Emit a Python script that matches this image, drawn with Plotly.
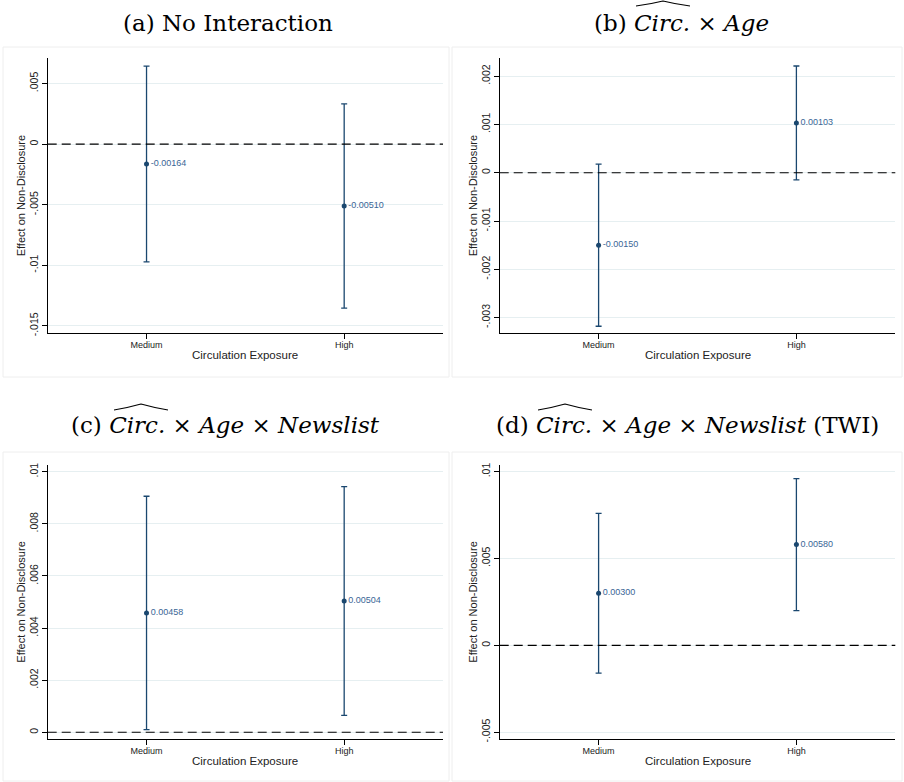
import plotly.graph_objects as go

W, H = 904, 782

categories = ["Medium", "High"]

# Panel (a) No Interaction
est_a = [-0.00164, -0.00510]
lo_a = [-0.00972, -0.01352]
hi_a = [0.00644, 0.00332]
ticks_a = [-0.015, -0.01, -0.005, 0, 0.005]
ticktext_a = ["-.015", "-.01", "-.005", "0", ".005"]

# Panel (b) Circ x Age
est_b = [-0.00150, 0.00103]
lo_b = [-0.00318, -0.00015]
hi_b = [0.00018, 0.00221]
ticks_b = [-0.003, -0.002, -0.001, 0, 0.001, 0.002]
ticktext_b = ["-.003", "-.002", "-.001", "0", ".001", ".002"]

# Panel (c) Circ x Age x Newslist
est_c = [0.00458, 0.00504]
lo_c = [0.00010, 0.00065]
hi_c = [0.00906, 0.00943]
ticks_c = [0, 0.002, 0.004, 0.006, 0.008, 0.01]
ticktext_c = ["0", ".002", ".004", ".006", ".008", ".01"]

# Panel (d) Circ x Age x Newslist (TWI)
est_d = [0.00300, 0.00580]
lo_d = [-0.00160, 0.00200]
hi_d = [0.00760, 0.00960]
ticks_d = [-0.005, 0, 0.005, 0.01]
ticktext_d = ["-.005", "0", ".005", ".01"]

titles = [
    "(a) No Interaction",
    "(b) <i>Circ.</i> × <i>Age</i>",
    "(c) <i>Circ.</i> × <i>Age</i> × <i>Newslist</i>",
    "(d) <i>Circ.</i> × <i>Age</i> × <i>Newslist</i> (TWI)",
]
x_title = "Circulation Exposure"
y_title = "Effect on Non-Disclosure"


def PX(p):
    return p / W


def PY(p):
    return 1 - p / H


NAVY = "#1a476f"
LABEL = "#3a6696"
GRID = "#e6eff1"

panels = [
    dict(est=est_a, lo=lo_a, hi=hi_a, tv=ticks_a, tt=ticktext_a,
         xd=(47.7, 443), yd=(58.3, 333), yr=(-0.01558, 0.00708),
         title_xy=(228, 23), ytitle_x=20.7, xtitle_y=355),
    dict(est=est_b, lo=lo_b, hi=hi_b, tv=ticks_b, tt=ticktext_b,
         xd=(499.7, 895.3), yd=(58.3, 333), yr=(-0.00332, 0.00237),
         title_xy=(681, 23), ytitle_x=472.7, xtitle_y=355),
    dict(est=est_c, lo=lo_c, hi=hi_c, tv=ticks_c, tt=ticktext_c,
         xd=(47.7, 443), yd=(465, 739), yr=(-0.000257, 0.01026),
         title_xy=(225, 425), ytitle_x=20.7, xtitle_y=761),
    dict(est=est_d, lo=lo_d, hi=hi_d, tv=ticks_d, tt=ticktext_d,
         xd=(499.7, 895.3), yd=(465, 739), yr=(-0.00539, 0.01038),
         title_xy=(687, 425), ytitle_x=472.7, xtitle_y=761),
]

fig = go.Figure()
annotations = []
shapes = []
layout = {}

for i, p in enumerate(panels):
    n = i + 1
    sx = "" if n == 1 else str(n)
    xa, ya = "x" + sx, "y" + sx
    fig.add_trace(go.Scatter(
        x=categories, y=p["est"], xaxis=xa, yaxis=ya,
        mode="markers+text",
        marker=dict(color=NAVY, size=5),
        text=[f"{v:.5f}" for v in p["est"]],
        textposition="middle right",
        textfont=dict(family="Liberation Sans", size=9, color=LABEL),
        error_y=dict(type="data", symmetric=False,
                     array=[h - e for h, e in zip(p["hi"], p["est"])],
                     arrayminus=[e - l for e, l in zip(p["est"], p["lo"])],
                     color=NAVY, thickness=1.3, width=3),
        showlegend=False, cliponaxis=False, hoverinfo="skip",
    ))
    layout["xaxis" + sx] = dict(
        domain=[PX(p["xd"][0]), PX(p["xd"][1])], anchor=ya,
        type="category", range=[-0.5, 1.5], automargin=False,
        showline=True, linecolor="black", linewidth=1,
        ticks="outside", ticklen=5, tickcolor="black", ticklabelstandoff=-2,
        tickfont=dict(family="Liberation Sans", size=9, color="#222"),
        showgrid=False, zeroline=False, fixedrange=True,
    )
    layout["yaxis" + sx] = dict(
        domain=[PY(p["yd"][1]), PY(p["yd"][0])], anchor=xa,
        range=list(p["yr"]), automargin=False,
        tickvals=p["tv"], ticktext=p["tt"], tickangle=-90,
        showline=True, linecolor="black", linewidth=1,
        ticks="outside", ticklen=5, tickcolor="black",
        tickfont=dict(family="Liberation Sans", size=10.5, color="#222"),
        showgrid=True, gridcolor=GRID, gridwidth=1,
        zeroline=False, fixedrange=True,
    )
    shapes.append(dict(type="line", xref=xa + " domain", yref=ya,
                       x0=0, x1=1, y0=0, y1=0,
                       line=dict(color="black", width=1.1, dash="9px,5px")))
    cx = (p["xd"][0] + p["xd"][1]) / 2
    cy = (p["yd"][0] + p["yd"][1]) / 2
    annotations.append(dict(text=x_title, xref="paper", yref="paper",
                            x=PX(cx), y=PY(p["xtitle_y"]), showarrow=False,
                            xanchor="center", yanchor="middle",
                            font=dict(family="Liberation Sans", size=11.5, color="#222")))
    annotations.append(dict(text=y_title, xref="paper", yref="paper",
                            x=PX(p["ytitle_x"]), y=PY(cy), showarrow=False,
                            textangle=-90, xanchor="center", yanchor="middle",
                            font=dict(family="Liberation Sans", size=11, color="#222")))
    annotations.append(dict(text=titles[i], xref="paper", yref="paper",
                            x=PX(p["title_xy"][0]), y=PY(p["title_xy"][1]),
                            showarrow=False, xanchor="center", yanchor="middle",
                            font=dict(family="DejaVu Serif", size=23, color="black")))

# faint panel frames
for (x0, y0, x1, y1) in [(3, 47, 449, 377), (452, 47, 902, 377),
                         (3, 452, 449, 781), (452, 452, 902, 781)]:
    shapes.append(dict(type="rect", xref="paper", yref="paper",
                       x0=PX(x0), x1=PX(x1), y0=PY(y1), y1=PY(y0),
                       line=dict(color="#eeeeee", width=1), layer="below"))

# wide hats over "Circ."
for (x0, x1, ye, yp) in [(636, 690, 6, 1), (114, 168, 410, 404), (538, 592, 410, 404)]:
    xm = (x0 + x1) / 2
    ymid = (ye + yp) / 2 + 0.8
    path = (f"M {PX(x0)},{PY(ye)} Q {PX((x0 + xm) / 2)},{PY(ymid)} {PX(xm)},{PY(yp)} "
            f"Q {PX((xm + x1) / 2)},{PY(ymid)} {PX(x1)},{PY(ye)}")
    shapes.append(dict(type="path", xref="paper", yref="paper", path=path,
                       line=dict(color="black", width=1.1)))

fig.update_layout(
    width=W, height=H,
    margin=dict(l=0, r=0, t=0, b=0),
    paper_bgcolor="white", plot_bgcolor="white",
    annotations=annotations, shapes=shapes,
    hovermode=False,
    **layout,
)

fig.write_html("out.html", config={"displayModeBar": False, "staticPlot": True},
               post_script="document.body.style.margin='0';document.body.style.overflow='hidden';")
